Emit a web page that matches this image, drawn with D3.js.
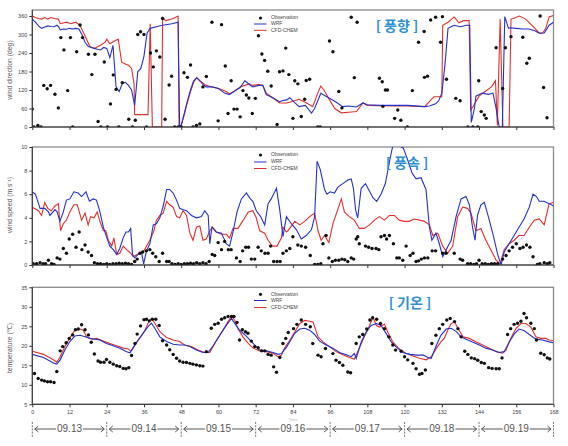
<!DOCTYPE html>
<html><head><meta charset="utf-8">
<script src="https://cdn.jsdelivr.net/npm/d3@7"></script>
<style>
html,body{margin:0;padding:0;background:#fff;}
svg{display:block;font-family:"Liberation Sans",Arial,sans-serif;}
</style></head>
<body>
<svg id="c" width="568" height="446"></svg>
<script>
// ---------------- DATA ----------------
const hourTicks = [0,12,24,36,48,60,72,84,96,108,120,132,144,156,168];
const dayLabels = ["09.13","09.14","09.15","09.16","09.17","09.18","09.19"];
const seriesNames = ["Observation","WRF","CFD-CHEM"];
const panelTitles = ["[ 풍향 ]","[ 풍속 ]","[ 기온 ]"];
const yTitles = ["wind direction (deg)","wind speed (m s\u207B\u00B9)","temperature (\u2103)"];
const dirTicks = [0,60,120,180,240,300,360];
const spdTicks = [0,2,4,6,8,10];
const tmpTicks = [5,10,15,20,25,30,35];

// wind direction [hour, deg]
const dirObs = [[0,58],[0.5,0],[1.8,5],[2.8,0],[3.7,135],[4.8,124],[5.9,135],[7.3,106],[8.4,62],[9.2,290],[10.2,250],[11.4,118],[12.3,290],[13,0],[14.3,244],[15.4,331],[16.2,290],[18.1,236],[19.2,170],[20.2,236],[21.2,18],[22.1,0],[23.2,211],[24.2,0],[25.2,75],[26.1,169],[27,122],[27.9,0],[29,144],[31.1,25],[32.3,0],[33.2,22],[34,300],[34.9,309],[36,300],[36.8,0],[38.1,240],[39,195],[40,247],[41.1,227],[42,352],[42.8,25],[44.1,136],[44.9,165],[45.9,0],[47,0],[48,0],[48.9,176],[50,161],[51,201],[51.8,0],[52.9,5],[54,10],[55,130],[56.1,164],[57.9,340],[59.9,20],[61,332],[62.2,198],[63.1,44],[64.1,150],[65,58],[66,58],[67,33],[67.9,118],[69,104],[69.8,94],[70.9,44],[71.9,93],[72.9,296],[74,237],[74.9,216],[75.9,181],[77,133],[78.9,8],[79.7,179],[80.8,182],[81.7,256],[82.7,170],[84.6,150],[85.6,140],[87.8,90],[88.3,151],[89.4,155],[84,28],[86.7,34],[92,0],[92.8,0],[95.8,279],[96.9,244],[98.8,115],[99.8,62],[102.8,356],[103.8,160],[104.7,340],[111.9,158],[112.8,147],[113.8,120],[114.5,120],[113,67],[116.8,28],[117.8,55],[118.8,22],[120.9,0],[122.5,118],[124.5,275],[126.3,310],[126.4,161],[127.4,165],[128.4,347],[130,356],[131.6,275],[132.2,358],[133.5,155],[136.5,93],[137.9,85],[140.4,0],[142,0],[143.6,0],[143.9,150],[144.7,50],[145.7,39],[146.3,28],[149.5,257],[151.6,125],[152.5,257],[154.3,293],[158.1,291],[159.4,207],[160.2,223],[163.7,360],[164.8,128],[165.9,30]];
const dirWrf = [[0,350],[1,340],[2,328],[3,320],[4,324],[5,328],[6,326],[7,325],[8,330],[8.5,325],[9,315],[10,318],[11,317],[12,320],[13,318],[14,320],[15,318],[16,300],[17,275],[18,262],[19,258],[20,255],[21,252],[22,250],[23,258],[24,255],[25,225],[26,265],[27,130],[28,115],[29,140],[30,145],[31,135],[32,120],[33,70],[34,180],[35,190],[36,230],[37,305],[38,320],[40,325],[42,330],[45,335],[47,340],[47.5,0],[48,5],[49,45],[50,85],[51,120],[52,150],[53,160],[54,150],[55,138],[56,130],[58,130],[60,125],[62,110],[63.5,105],[65,115],[67,128],[68.5,150],[70,138],[71,130],[73,135],[74.3,135],[75.4,105],[77.5,95],[79.7,82],[80.5,85],[82,88],[83,95],[84.5,80],[86,66],[88,70],[90,45],[91,60],[93,109],[95.8,93],[98,80],[100,66],[102,68],[104.5,65],[106.6,78],[108,72],[112,70],[117,70],[121,70],[126.5,66],[128,68],[130,75],[131,85],[132,110],[133,200],[134,320],[135,325],[136,330],[138,325],[140,330],[141,330],[141.5,15],[142.5,60],[143,100],[145,110],[147,106],[148.5,110],[149.5,60],[150.5,0],[151.5,0],[152.3,358],[153.5,320],[154,322],[156,320],[158,318],[160,318],[162,312],[163.4,304],[165,305],[166.6,330],[168,340]];
const dirCfd = [[0,360],[1,355],[2,352],[3,350],[4,355],[5,350],[6,355],[7,352],[8.4,350],[9,335],[11,340],[12.5,335],[14,340],[15.4,330],[17,295],[18.6,260],[20,255],[22,265],[23.5,275],[24,285],[25,270],[26.6,280],[27.7,285],[28.8,210],[29.8,205],[31,200],[32,190],[32.8,140],[33,40],[37.3,40],[38,335],[38.7,0],[41.7,0],[42,355],[43,345],[45,350],[47,360],[47.3,0],[48,5],[49,40],[50,80],[51,115],[52,145],[53,160],[54,150],[56,135],[58,130],[60,125],[62.5,115],[63.6,108],[65,115],[67,130],[68.5,135],[70,140],[71,135],[73,138],[74.3,135],[75.4,110],[77.5,95],[79.7,78],[82,78],[83,80],[86,90],[88,80],[90.4,66],[92,110],[93,133],[94,120],[95.8,88],[97.5,60],[99.6,46],[102,48],[104.5,50],[106.6,78],[108,70],[112,69],[117,68],[121,68],[126.5,66],[128.5,88],[129.5,98],[132,98],[132.3,330],[134,340],[136,357],[137.5,338],[139,345],[140.8,345],[141.3,55],[142,65],[144,100],[146,115],[148,130],[149.3,150],[149.9,5],[150.8,350],[151.7,0],[153.7,0],[154.3,350],[155,352],[157,360],[159,350],[160.5,335],[162,320],[163.4,305],[164.5,305],[165.5,320],[166.6,357],[168,362]];

// wind speed [hour, m/s]
const spdObs = [[0.3,0.1],[1.4,0.1],[2.5,0.2],[3.5,0.1],[4.3,0.1],[5.2,0.4],[6.2,0.1],[7,0.05],[8,0.6],[8.9,0.5],[10,1.4],[11,1.0],[11.9,2.2],[13,2.6],[14.1,1.5],[15.1,2.8],[16,1.3],[17,1.7],[18,1.1],[19.1,0.8],[20,0.2],[21,0.1],[22,0.1],[23,0.05],[24,0.1],[25,0.05],[26,0.1],[27,0.1],[28,0.15],[29,0.1],[30,0.15],[31,0.1],[32,0.05],[33,0.3],[33.8,0.5],[34.7,1.0],[35.6,1.1],[36.8,1.2],[37.9,1.3],[38.8,1.0],[39.8,0.7],[40.9,0.3],[42,1.0],[43.3,0.3],[44.1,0.3],[45,0.1],[46,0.05],[47,0.1],[48,0.05],[49,0.1],[50,0.1],[51,0.15],[52,0.1],[53,0.2],[54,0.1],[55,0.2],[56,0.1],[57,0.3],[58,0.9],[58.8,0.8],[59.9,1.9],[61,1.3],[62,2.0],[63.2,1.3],[64.1,1.3],[65.8,0.6],[67,0.3],[67.8,1.2],[68.8,1.5],[69.7,1.5],[70.6,0.5],[71.7,0.5],[72.8,1.5],[73.8,1.2],[75,1.0],[76,1.0],[76.8,1.6],[77.8,0.3],[78.9,0.3],[79.9,0.3],[80.8,1.0],[81.9,1.2],[83,1.4],[84,2.4],[85.6,1.7],[86.7,1.6],[88.1,1.5],[89.6,0.8],[91,0.05],[92,0.05],[93,0.1],[93.7,1.8],[94.7,2.5],[95.6,0.6],[96.7,0.3],[97.7,0.4],[98.8,0.4],[99.8,0.5],[100.7,0.45],[101.7,0.3],[102.8,0.6],[103.6,0.5],[104.4,2.2],[104.9,2.4],[105.4,1.8],[107.4,1.6],[108.4,1.5],[109.5,1.4],[110.8,1.4],[111.7,1.3],[112.4,2.4],[113.5,2.5],[114.2,2.2],[115.1,2.5],[116.4,1.8],[117.5,0.6],[118.3,0.6],[119.4,0.4],[120.5,1.6],[121.8,0.8],[122.7,1.0],[123.7,0.3],[124.5,0.35],[125.4,0.5],[126.4,0.6],[127.5,0.6],[128.9,1.2],[130,1.2],[132.3,1.0],[133.4,1.0],[136,1.0],[137.9,0.5],[138.7,0.4],[140.3,0.1],[141.3,0.1],[142.3,0.05],[143.2,0.1],[144,0.4],[145,0.1],[146,0.1],[147,0.05],[148,0.1],[149,0.1],[150,0.1],[151.6,0.5],[152.7,0.8],[153.7,1.2],[154.8,1.5],[156,1.8],[157.2,1.4],[158.2,1.5],[159.3,1.7],[160.4,1.5],[161.4,0.7],[162.8,0.05],[163.6,0.1],[165,0.2],[166,0.1],[166.8,0.2]];
const spdWrf = [[0,6.2],[1,6.0],[2,5.2],[2.5,4.8],[4,4.8],[5.2,4.5],[5.7,4.2],[7.3,4.7],[8,4.5],[8.9,3.7],[10,4.5],[11,5.5],[12.1,5.6],[13.4,6.2],[14.8,6.1],[15.9,5.8],[17.3,6.2],[18.4,5.4],[19.6,5.6],[20.7,5.5],[21.8,4.5],[22.9,3.2],[23.9,2.4],[25,1.6],[26.1,1.3],[27.2,0.9],[28.2,1.4],[29.3,2.3],[30.2,2.8],[31,2.8],[31.7,3.1],[32.3,0.9],[33,0.6],[34.1,0.9],[35.2,1.1],[35.9,0.1],[36.8,1.2],[37.9,1.8],[39,3.4],[40,3.5],[41.1,4.0],[42.2,5.0],[43.3,6.4],[44.3,6.4],[45.4,6.1],[46.5,5.5],[47.5,4.8],[48.4,4.7],[49.7,4.6],[51.3,4.2],[52.9,4.0],[54.5,4.1],[55.6,4.6],[56.7,4.2],[57.2,1.8],[57.9,3.2],[59.3,2.8],[61,2.7],[62.5,1.8],[63.6,1.6],[64.7,2.8],[66,4.5],[67.4,5.6],[69,6.1],[70.3,5.6],[71.1,5.4],[72.2,4.6],[73.6,4.1],[74.9,3.4],[76,5.2],[77,5.6],[78.7,6.5],[79.7,4.8],[80.8,2.4],[81.9,4.1],[83.5,3.5],[85.1,3.0],[86.7,2.2],[88.3,2.5],[90,3.0],[91,4.1],[91.8,8.8],[92.8,8.1],[94.2,6.4],[95,6.0],[96,6.2],[97.4,6.1],[98.5,6.6],[100.1,6.9],[101.7,7.2],[102.8,7.3],[103.5,6.5],[104.2,4.7],[104.9,4.0],[106,6.5],[107.4,6.9],[108.4,6.4],[109.8,5.7],[111,5.4],[112.4,6.0],[113.8,6.9],[115.3,9.0],[116.2,10.1],[117.8,10.2],[119.6,9.9],[121,8.9],[122.4,7.8],[123.7,7.3],[125.3,7.4],[126.9,6.4],[128,3.2],[128.8,2.1],[130.1,2.7],[131.2,1.8],[132.3,0.7],[133.4,1.3],[135,2.1],[136.6,4.1],[138.2,5.6],[139.8,5.8],[140.9,5.1],[141.9,3.2],[142.7,2.1],[143.5,4.2],[144.6,5.1],[145.7,5.3],[147,4.1],[148.4,2.7],[150,0.9],[151.1,0],[152.1,1.1],[153.7,1.8],[155.3,2.5],[156.9,3.2],[158.5,3.9],[160.2,4.9],[161.4,6.0],[162.5,5.8],[163.4,5.4],[165,5.4],[166.6,5.2],[168,5.0]];
const spdCfd = [[0,4.9],[2,4.6],[3,4.2],[4,5.3],[5,4.8],[6.1,4.6],[7.3,5.0],[8.4,5.2],[9.1,2.9],[10,3.5],[11,3.8],[12.1,4.5],[13.4,5.1],[14.5,5.1],[15.9,3.8],[17,4.4],[18,3.4],[18.8,4.1],[19.9,4.0],[20.9,4.5],[21.8,3.7],[22.9,2.9],[23.7,2.9],[24.5,2.1],[25.6,1.6],[26.3,2.3],[27.2,0.9],[28.2,1.0],[29.3,1.6],[30.4,1.3],[31.7,1.0],[32.5,0.7],[33.8,0.9],[34.9,1.0],[36,1.2],[36.8,1.6],[37.9,2.1],[39.2,2.9],[40,3.8],[41.1,4.2],[42.2,4.4],[43.3,5.4],[44.3,5.1],[45.4,4.9],[46.5,4.1],[47.5,4.0],[48.6,4.6],[49.7,4.2],[50.8,2.7],[51.8,2.1],[52.9,3.2],[54,3.3],[55,2.1],[56.1,2.2],[57.2,2.9],[58.1,3.2],[59.3,2.8],[61,2.6],[62.5,2.6],[63.6,2.3],[64.7,3.1],[66.3,3.1],[68,3.8],[69.6,4.5],[71.1,4.6],[72.2,4.0],[73.3,2.9],[74.9,2.7],[76,2.1],[77.4,1.6],[78.9,1.6],[80.3,2.3],[80.8,3.2],[81.9,2.8],[82.4,2.9],[84.6,3.7],[86.2,3.4],[87.8,3.7],[89.4,4.1],[91,4.4],[92.1,2.9],[93.1,2.1],[94.2,2.5],[95.6,1.9],[96.9,3.5],[98.2,4.5],[99.6,5.6],[100.6,4.5],[102.2,4.1],[103.8,3.8],[105.4,3.1],[107,3.1],[108.7,3.4],[110.3,3.8],[111.9,4.1],[113.5,3.8],[115.1,4.2],[116.7,4.2],[118.3,3.8],[119.9,3.7],[121.5,3.7],[123.1,3.9],[124.8,3.8],[126.4,3.7],[128,3.4],[129.1,2.5],[130.7,2.7],[132.3,1.6],[133.9,1.0],[135.5,1.6],[137.1,4.1],[138.7,4.9],[140.3,4.8],[141.4,4.4],[143,2.9],[144.6,3.1],[146.2,2.1],[147.8,1.3],[149.5,0.4],[150.8,0.1],[152.1,1.3],[153.7,1.8],[155.3,2.1],[156.9,2.5],[158.5,2.5],[160.2,3.2],[161.8,3.8],[163.4,3.9],[165,3.4],[166.6,5.2],[168,5.3]];

// temperature [hour, degC]
const tmpObs = [[0.7,12.9],[1.9,11.6],[3,11.2],[3.9,11.0],[4.9,10.8],[5.9,10.8],[7,10.6],[7.9,13.4],[9,18.7],[9.8,19.8],[10.9,20.8],[11.9,21.9],[13,22.8],[13.9,24.1],[14.8,24.3],[15.9,25.4],[17,24.1],[18.1,22.8],[19,20.9],[20,17.9],[21.2,16.1],[22,15.8],[23.1,15.8],[23.9,16.5],[25,15.8],[26.1,15.3],[27.2,14.9],[28.2,14.7],[29.3,14.2],[30.2,14.1],[31.1,14.4],[32,17.5],[33.1,20.6],[33.8,23.0],[34.9,25.1],[36,26.7],[36.8,26.8],[37.7,26.4],[38.7,26.8],[39.8,26.8],[40.9,25.2],[42,21.3],[43.3,20.2],[44.3,19.0],[45.4,17.8],[46.5,16.8],[47.5,16.1],[48.6,15.8],[49.7,15.7],[50.8,15.5],[51.8,15.3],[52.9,15.1],[54,14.9],[55,14.8],[56.1,18.5],[57.7,24.5],[58.8,25.5],[59.9,25.8],[61,26.8],[62,27.2],[63.1,27.5],[64.2,27.5],[65,27.5],[66,26.0],[66.8,21.5],[67.7,24.1],[68.7,23.6],[69.5,23.2],[70.6,21.2],[71.7,19.8],[72.8,19.5],[73.9,18.7],[74.9,18.7],[76,17.8],[77,17.6],[77.8,14.6],[78.7,13.2],[79.8,17.0],[80.8,20.6],[81.7,21.9],[82.5,23.4],[84.2,24.4],[85.3,25.5],[86.7,26.6],[88.1,25.5],[89.6,24.9],[90.4,20.6],[92.1,17.6],[93.1,17.2],[94.5,19.3],[96.9,18.0],[97.9,16.3],[99,15.7],[100.1,15.0],[101.7,13.3],[102.6,13.1],[104.4,20.6],[105.4,22.3],[106.5,22.9],[107.8,24.3],[108.8,26.6],[109.7,27.2],[111,26.8],[112.2,25.7],[113.5,24.4],[114.9,22.3],[116.2,20.2],[117.1,18.9],[118.9,18.6],[120,17.2],[121,16.4],[122.7,15.5],[123.7,14.1],[124.8,12.7],[125.6,12.9],[126.7,13.8],[128.8,20.6],[130.1,22.7],[131.2,24.4],[132.3,25.5],[133.6,26.6],[134.7,27.0],[136.1,26.2],[137.2,24.4],[138.2,22.3],[139.4,18.6],[140.4,17.8],[141.5,16.9],[142.6,16.7],[143.6,16.3],[144.7,15.7],[145.7,15.5],[147.1,14.4],[148.2,14.2],[149.5,14.1],[150.5,14.1],[151.4,16.9],[153.2,22.9],[154.2,24.4],[155.3,25.5],[156.4,25.8],[157.5,26.3],[158.5,28.3],[159.3,27.2],[160.7,25.8],[161.8,24.4],[162.5,21.5],[163.9,18.1],[165,17.7],[166,16.9],[166.8,16.6]];
const tmpWrf = [[0,17.8],[3.6,17.0],[6.8,15.6],[7.9,15.3],[9,16.4],[10.5,18.9],[12.1,21.1],[13.7,22.5],[15.4,22.7],[17,22.3],[18.6,21.9],[20.2,21.7],[21.8,21.5],[23.9,20.6],[26.1,20.0],[28.2,19.4],[30.4,18.5],[31.5,18.2],[32.5,19.4],[34.1,21.5],[35.7,23.2],[37.3,24.9],[38.4,25.8],[39.5,24.5],[41.1,22.3],[43.3,21.1],[45.4,20.4],[47.5,20.2],[49.1,20.2],[50.8,19.8],[52.9,18.9],[55,18.3],[56.7,18.3],[58.3,20.0],[60.4,22.7],[62.6,25.3],[64.2,27.0],[65.3,25.7],[66.8,24.0],[68.4,22.9],[70.1,21.5],[71.7,20.2],[73.3,18.9],[75.4,18.7],[77.6,18.3],[79.2,17.8],[80.3,18.0],[81.9,19.6],[82.9,20.9],[84.6,23.2],[86.2,24.3],[87.8,24.5],[89.4,24.0],[91,22.9],[92.6,21.2],[94.7,20.2],[96.9,19.4],[99,18.3],[101.2,17.7],[102.8,17.2],[103.8,18.0],[104.4,16.8],[106,20.9],[107.6,23.5],[109.2,25.2],[110.9,25.7],[112.4,25.2],[114.2,23.0],[115.8,20.9],[117.4,19.6],[119.6,18.2],[121.8,17.8],[123.9,17.6],[126.1,17.6],[127.5,17.0],[128.6,16.8],[130.3,20.2],[131.7,22.7],[133.4,24.3],[135,24.5],[136.6,23.7],[138.2,22.3],[139.8,21.7],[141.9,21.0],[144.1,20.2],[146.2,19.4],[148.4,18.9],[150.5,18.3],[152.1,18.5],[153.7,20.9],[155.3,23.0],[156.9,24.3],[158.5,23.9],[160.2,22.9],[162.3,21.7],[164.4,21.5],[166.6,21.0],[168,20.8]];
const tmpCfd = [[0,18.6],[3.6,17.8],[6.8,16.4],[7.9,15.8],[9,17.2],[10.5,19.8],[12,21.9],[13.7,24.0],[15.4,24.3],[16.4,24.0],[17.5,22.3],[19.2,21.7],[20.7,21.9],[22.9,21.2],[25,20.6],[27.2,20.0],[29.3,19.4],[30.9,19.2],[31.7,18.6],[33,20.2],[34.6,21.9],[36.3,24.0],[37.3,25.8],[38.4,27.0],[39.5,25.8],[41.1,23.6],[43.3,22.1],[45.4,21.5],[47.5,21.1],[49.1,20.2],[51.3,19.8],[53.4,18.9],[55.6,18.3],[57.2,18.3],[58.8,20.6],[61,23.4],[63.1,26.2],[64.2,27.6],[65.3,26.5],[66.3,24.4],[67.9,22.3],[69.6,20.6],[71.2,19.4],[73.3,18.7],[75.4,18.5],[77.6,18.1],[79.2,17.2],[80.3,17.6],[81.3,19.4],[82.9,21.3],[84.6,23.5],[86.2,25.7],[87.8,26.5],[89.4,26.3],[90.5,26.1],[92.1,22.3],[93.7,21.0],[95.8,19.8],[97.9,18.5],[100.1,17.7],[102.2,17.0],[103.8,16.6],[105.4,19.4],[107,22.3],[108.7,25.2],[109.8,27.4],[110.9,25.2],[111.9,24.8],[113.5,25.6],[114.6,23.5],[116.2,21.0],[118.4,19.1],[120.6,18.0],[122.7,17.4],[124.8,16.8],[127,16.4],[128.6,17.2],[130.3,19.4],[131.7,21.0],[132.8,21.9],[133.9,24.0],[135,25.7],[136.1,26.1],[137.2,24.5],[138.8,22.3],[140.9,21.9],[143.1,21.0],[145.2,20.2],[147.3,19.4],[149.5,18.5],[151.6,18.1],[152.7,18.9],[154.2,21.9],[155.9,24.4],[157.5,25.7],[159.1,25.7],[160.7,24.8],[162.3,22.3],[163.9,21.9],[165.5,21.9],[166.6,21.5],[168,21.3]];

// ---------------- DRAW ----------------
const svg = d3.select("#c");
const X0 = 32.3, X1 = 553.5;
const x = d3.scaleLinear().domain([0,168]).range([X0, X1]);
const BLUE = "#2430c8", RED = "#e0302c", TITLE = "#2f8fd6";

const panels = [
  {obs:dirObs, wrf:dirWrf, cfd:dirCfd, dom:[0,379.5], rng:[127,10], ticks:dirTicks, ylab:[10,70], title:[397,31], leg:[18,24,30.3], xlabels:false},
  {obs:spdObs, wrf:spdWrf, cfd:spdCfd, dom:[0,10], rng:[265,147], ticks:spdTicks, ylab:[10,205], title:[407,168], leg:[155,162,168.5], xlabels:false},
  {obs:tmpObs, wrf:tmpWrf, cfd:tmpCfd, dom:[5,35], rng:[404.3,287.3], ticks:tmpTicks, ylab:[10,348], title:[410,308], leg:[294.3,300.5,307.5], xlabels:true}
];

panels.forEach((p,i)=>{
  const y = d3.scaleLinear().domain(p.dom).range(p.rng);
  const top = p.rng[1], bot = p.rng[0];
  const g = svg.append("g");
  const cid = "clip"+i;
  svg.append("clipPath").attr("id",cid).append("rect")
    .attr("x",X0).attr("y",top).attr("width",X1-X0).attr("height",bot-top);

  // frame
  g.append("rect").attr("x",X0).attr("y",top).attr("width",X1-X0).attr("height",bot-top)
    .attr("fill","none").attr("stroke","#8c8c8c").attr("stroke-width",1.3);

  const line = d3.line().x(d=>x(d[0])).y(d=>y(d[1]));
  const pg = g.append("g").attr("clip-path",`url(#${cid})`);
  pg.append("path").datum(p.cfd).attr("d",line).attr("fill","none").attr("stroke",RED).attr("stroke-width",1.1);
  pg.append("path").datum(p.wrf).attr("d",line).attr("fill","none").attr("stroke",BLUE).attr("stroke-width",1.1);
  pg.selectAll("circle.o").data(p.obs).join("circle").attr("class","o")
    .attr("cx",d=>x(d[0])).attr("cy",d=>y(d[1])).attr("r",1.7).attr("fill","#111");

  // y axis
  const ya = g.append("g").attr("transform",`translate(${X0},0)`)
    .call(d3.axisLeft(y).tickValues(p.ticks).tickSize(3).tickPadding(2));
  ya.select(".domain").attr("stroke","#333").attr("stroke-width",1).attr("d",`M0,${bot}V${top}`);
  ya.selectAll(".tick line").attr("stroke","#333");
  ya.selectAll("text").attr("font-size","5.5px").attr("fill","#444").attr("font-family","Liberation Sans, Arial");

  // x axis
  const xa = g.append("g").attr("transform",`translate(0,${bot})`)
    .call(d3.axisBottom(x).tickValues(hourTicks).tickSize(3).tickPadding(3)
      .tickFormat(p.xlabels ? d3.format("d") : ""));
  xa.select(".domain").attr("stroke","#333").attr("stroke-width",1).attr("d",`M${X0},0H${X1}`);
  xa.selectAll(".tick line").attr("stroke","#333");
  xa.selectAll("text").attr("font-size","5.5px").attr("fill","#444").attr("font-family","Liberation Sans, Arial");

  // y title
  g.append("text").attr("transform",`translate(${p.ylab[0]},${p.ylab[1]}) rotate(-90)`)
    .attr("text-anchor","middle").attr("dominant-baseline","middle")
    .attr("font-size","6.8px").attr("fill","#555").text(yTitles[i]);

  // panel title
  g.append("text").attr("x",p.title[0]).attr("y",p.title[1]).attr("text-anchor","middle")
    .attr("font-family","Noto Sans CJK KR, sans-serif").attr("font-weight","bold")
    .attr("font-size","14px").attr("fill",TITLE).text(panelTitles[i]);

  // legend
  const lg = g.append("g");
  lg.append("circle").attr("cx",260.5).attr("cy",p.leg[0]).attr("r",1.6).attr("fill","#111");
  lg.append("line").attr("x1",254).attr("x2",266.5).attr("y1",p.leg[1]).attr("y2",p.leg[1]).attr("stroke",BLUE).attr("stroke-width",1);
  lg.append("line").attr("x1",254).attr("x2",266.5).attr("y1",p.leg[2]).attr("y2",p.leg[2]).attr("stroke",RED).attr("stroke-width",1);
  seriesNames.forEach((s,k)=>{
    lg.append("text").attr("x",271).attr("y",p.leg[k]).attr("dominant-baseline","middle")
      .attr("font-size","5px").attr("fill","#444").text(s);
  });
});

// faint axis title
svg.append("text").attr("x",293).attr("y",421).attr("text-anchor","middle")
  .attr("font-size","4px").attr("fill","#bbb").text("Time");

// date bands
const dg = svg.append("g");
const YA = 429;
d3.range(0,169,24).forEach(h=>{
  dg.append("line").attr("x1",x(h)).attr("x2",x(h)).attr("y1",422).attr("y2",437)
    .attr("stroke","#666").attr("stroke-width",0.9).attr("stroke-dasharray","2,1.2");
});
dayLabels.forEach((lab,k)=>{
  const a = x(24*k), b = x(24*k+24), c = x(24*k+12);
  dg.append("text").attr("x",c).attr("y",YA).attr("text-anchor","middle").attr("dominant-baseline","middle")
    .attr("font-size","10px").attr("fill","#555").attr("font-family","Liberation Sans, Arial").text(lab);
  const half = 13.5;
  dg.append("line").attr("x1",a+2.5).attr("x2",c-half).attr("y1",YA).attr("y2",YA).attr("stroke","#444").attr("stroke-width",0.9);
  dg.append("line").attr("x1",c+half).attr("x2",b-2.5).attr("y1",YA).attr("y2",YA).attr("stroke","#444").attr("stroke-width",0.9);
  dg.append("path").attr("d",`M${a+6},${YA-3}L${a+2.5},${YA}L${a+6},${YA+3}`).attr("fill","none").attr("stroke","#444").attr("stroke-width",0.9);
  dg.append("path").attr("d",`M${b-6},${YA-3}L${b-2.5},${YA}L${b-6},${YA+3}`).attr("fill","none").attr("stroke","#444").attr("stroke-width",0.9);
});
</script>
</body></html>
